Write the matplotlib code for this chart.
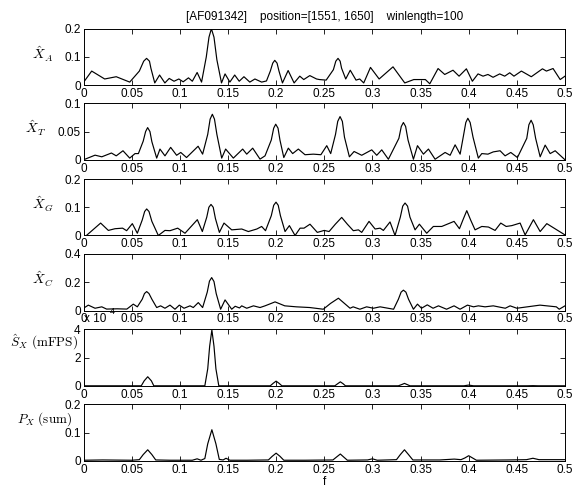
import matplotlib
matplotlib.use('Agg')
import matplotlib.pyplot as plt
import numpy as np

plt.rcParams['font.family'] = ['Liberation Sans', 'DejaVu Sans']
plt.rcParams['mathtext.fontset'] = 'cm'

title = '[AF091342]    position=[1551, 1650]    winlength=100'

# X_A spectrum (peaks / troughs)
fa = [0.0, 0.0085, 0.022, 0.034, 0.048, 0.058, 0.0625, 0.0655, 0.0685, 0.070, 0.074, 0.079, 0.0845, 0.089,
      0.094, 0.099, 0.1035, 0.109, 0.113, 0.118, 0.1226, 0.1275, 0.1303, 0.1328, 0.1355, 0.1385, 0.1433,
      0.147, 0.152, 0.157, 0.1617, 0.1666, 0.1727, 0.178, 0.185, 0.19, 0.194, 0.1965, 0.1986, 0.201, 0.203,
      0.2066, 0.2125, 0.2187, 0.2246, 0.2287, 0.235, 0.242, 0.245, 0.252, 0.2595, 0.262, 0.2643, 0.2665,
      0.268, 0.2723, 0.277, 0.283, 0.2868, 0.291, 0.298, 0.307, 0.3214, 0.3336, 0.343, 0.355, 0.3596,
      0.3682, 0.3751, 0.3837, 0.39, 0.3976, 0.4038, 0.4097, 0.4149, 0.42, 0.4253, 0.4322, 0.4374, 0.4426,
      0.447, 0.4547, 0.465, 0.4766, 0.4807, 0.4876, 0.495, 0.5]
xa = [0.01, 0.05, 0.022, 0.03, 0.011, 0.05, 0.085, 0.095, 0.085, 0.06, 0.008, 0.036, 0.008, 0.024,
      0.014, 0.022, 0.012, 0.026, 0.014, 0.045, 0.011, 0.1, 0.17, 0.2, 0.17, 0.09, 0.008,
      0.04, 0.011, 0.036, 0.014, 0.03, 0.011, 0.022, 0.011, 0.015, 0.05, 0.078, 0.088, 0.078, 0.05,
      0.008, 0.052, 0.008, 0.032, 0.02, 0.034, 0.022, 0.02, 0.018, 0.055, 0.085, 0.095, 0.085,
      0.06, 0.022, 0.053, 0.018, 0.022, 0.008, 0.063, 0.022, 0.065, 0.008, 0.02, 0.02, 0.005,
      0.059, 0.038, 0.053, 0.032, 0.058, 0.014, 0.04, 0.032, 0.038, 0.028, 0.04, 0.032, 0.044,
      0.032, 0.05, 0.03, 0.058, 0.05, 0.059, 0.02, 0.032]

# X_T spectrum
ft = [0.0, 0.012, 0.019, 0.029, 0.034, 0.041, 0.048, 0.0535, 0.057, 0.062, 0.0645, 0.0666, 0.069, 0.071,
      0.076, 0.0794, 0.0846, 0.0905, 0.0967, 0.101, 0.107, 0.119, 0.1237, 0.129, 0.1315, 0.1338, 0.136,
      0.1385, 0.1435, 0.1476, 0.1556, 0.1653, 0.1695, 0.1757, 0.1833, 0.1885, 0.195, 0.1975, 0.1996,
      0.202, 0.204, 0.208, 0.2127, 0.2172, 0.2231, 0.23, 0.2387, 0.2465, 0.2526, 0.2567, 0.2617, 0.264,
      0.2664, 0.2688, 0.271, 0.2761, 0.281, 0.2889, 0.2993, 0.3045, 0.3097, 0.3166, 0.3275, 0.33, 0.3322,
      0.3345, 0.337, 0.3426, 0.3468, 0.353, 0.3582, 0.3651, 0.3755, 0.3807, 0.3859, 0.3911, 0.3945, 0.397,
      0.3991, 0.4015, 0.4045, 0.41, 0.4136, 0.42, 0.4255, 0.4326, 0.4378, 0.4437, 0.4506, 0.4603, 0.4625,
      0.4648, 0.467, 0.4695, 0.4742, 0.4794, 0.4846, 0.4898, 0.5]
xt = [0.0, 0.0082, 0.0053, 0.012, 0.007, 0.016, 0.003, 0.011, 0.011, 0.033, 0.05, 0.057, 0.05, 0.032,
      0.003, 0.019, 0.007, 0.022, 0.008, 0.013, 0.004, 0.024, 0.01, 0.045, 0.072, 0.0806, 0.072,
      0.045, 0.003, 0.019, 0.003, 0.019, 0.01, 0.0206, 0.0012, 0.007, 0.035, 0.056, 0.063,
      0.056, 0.035, 0.004, 0.0206, 0.011, 0.019, 0.009, 0.01, 0.009, 0.025, 0.011, 0.045, 0.068,
      0.0765, 0.068, 0.04, 0.0053, 0.0147, 0.008, 0.0176, 0.008, 0.0176, 0.001, 0.038, 0.059, 0.066,
      0.059, 0.035, 0.001, 0.025, 0.01, 0.019, 0.001, 0.013, 0.008, 0.0265, 0.01, 0.042, 0.066,
      0.0735, 0.066, 0.04, 0.003, 0.011, 0.01, 0.014, 0.016, 0.007, 0.013, 0.004, 0.038, 0.062,
      0.07, 0.062, 0.038, 0.0053, 0.026, 0.011, 0.016, 0.0]

# X_G spectrum
fg = [0.003, 0.0178, 0.0258, 0.0327, 0.0406, 0.0448, 0.0507, 0.0559, 0.061, 0.0635, 0.0656, 0.068, 0.071,
      0.0777, 0.0846, 0.0898, 0.0978, 0.1054, 0.1182, 0.1234, 0.128, 0.1302, 0.1324, 0.1347, 0.137, 0.1411,
      0.1459, 0.1539, 0.1643, 0.1712, 0.18, 0.185, 0.189, 0.195, 0.1975, 0.1999, 0.2022, 0.2045, 0.2093,
      0.2138, 0.2197, 0.2249, 0.229, 0.2352, 0.2428, 0.25, 0.255, 0.2615, 0.2681, 0.274, 0.2802, 0.2855,
      0.2889, 0.2965, 0.3028, 0.308, 0.3114, 0.3183, 0.3235, 0.329, 0.3315, 0.3339, 0.3365, 0.339, 0.3443,
      0.3488, 0.3564, 0.3633, 0.372, 0.3848, 0.3904, 0.394, 0.398, 0.402, 0.4066, 0.4136, 0.4205, 0.4274,
      0.4333, 0.4389, 0.4448, 0.4534, 0.4586, 0.4672, 0.4742, 0.4811, 0.5]
xg = [0.0, 0.044, 0.018, 0.024, 0.026, 0.017, 0.042, 0.008, 0.055, 0.085, 0.094, 0.085, 0.05,
      0.0, 0.018, 0.017, 0.026, 0.008, 0.056, 0.014, 0.065, 0.1, 0.11, 0.1, 0.06, 0.011,
      0.044, 0.02, 0.023, 0.014, 0.023, 0.032, 0.017, 0.07, 0.107, 0.118, 0.107, 0.07, 0.014,
      0.035, 0.0, 0.026, 0.026, 0.04, 0.011, 0.018, 0.014, 0.04, 0.064, 0.04, 0.017, 0.02,
      0.011, 0.05, 0.023, 0.026, 0.018, 0.048, 0.0, 0.065, 0.104, 0.115, 0.104, 0.065, 0.02,
      0.04, 0.008, 0.032, 0.032, 0.05, 0.024, 0.055, 0.088, 0.055, 0.02, 0.032, 0.03, 0.018,
      0.044, 0.032, 0.035, 0.044, 0.002, 0.056, 0.014, 0.042, 0.002]

# X_C spectrum
fc = [0.0, 0.005, 0.012, 0.019, 0.024, 0.035, 0.045, 0.0517, 0.0559, 0.061, 0.0633, 0.0656, 0.068, 0.071,
      0.076, 0.0801, 0.0846, 0.0898, 0.095, 0.0995, 0.1044, 0.1106, 0.114, 0.1192, 0.1237, 0.1285, 0.1308,
      0.1331, 0.1355, 0.1378, 0.1424, 0.147, 0.1539, 0.1575, 0.162, 0.1643, 0.1695, 0.1765, 0.1833, 0.1885,
      0.193, 0.1989, 0.209, 0.221, 0.235, 0.249, 0.2565, 0.2647, 0.271, 0.2768, 0.28, 0.287, 0.294, 0.301,
      0.308, 0.322, 0.327, 0.3298, 0.3322, 0.3348, 0.3375, 0.3426, 0.3468, 0.351, 0.357, 0.363, 0.3686,
      0.377, 0.3848, 0.391, 0.3987, 0.405, 0.41, 0.417, 0.4255, 0.438, 0.443, 0.45, 0.474, 0.491, 0.494, 0.5]
xc = [0.016, 0.038, 0.016, 0.026, 0.01, 0.012, 0.01, 0.045, 0.026, 0.08, 0.12, 0.134, 0.12, 0.08,
      0.021, 0.033, 0.016, 0.038, 0.009, 0.038, 0.016, 0.033, 0.021, 0.056, 0.021, 0.13, 0.208,
      0.233, 0.205, 0.12, 0.009, 0.075, 0.009, 0.03, 0.018, 0.033, 0.016, 0.033, 0.021, 0.033,
      0.045, 0.061, 0.033, 0.026, 0.021, 0.009, 0.05, 0.087, 0.05, 0.016, 0.026, 0.009, 0.026, 0.016,
      0.026, 0.009, 0.08, 0.13, 0.144, 0.13, 0.08, 0.009, 0.045, 0.016, 0.04, 0.016, 0.033,
      0.009, 0.033, 0.009, 0.038, 0.026, 0.033, 0.026, 0.033, 0.016, 0.033, 0.016, 0.038, 0.026, 0.009, 0.033]

# S_X (mFPS)
fs = [0.0, 0.06, 0.063, 0.0667, 0.0705, 0.073, 0.126, 0.129, 0.131, 0.1333, 0.1355, 0.1375, 0.1405,
      0.194, 0.197, 0.2, 0.203, 0.206, 0.261, 0.264, 0.2667, 0.2695, 0.272, 0.327, 0.3305, 0.3333, 0.336,
      0.339, 0.395, 0.4, 0.405, 0.461, 0.4667, 0.472, 0.5]
sx = [0.0, 0.0, 0.35e-4, 0.64e-4, 0.35e-4, 0.0, 0.0, 1.2e-4, 2.8e-4, 3.95e-4, 2.8e-4, 1.2e-4, 0.0,
      0.0, 0.18e-4, 0.33e-4, 0.18e-4, 0.0, 0.0, 0.15e-4, 0.28e-4, 0.15e-4, 0.0, 0.0, 0.09e-4, 0.17e-4, 0.09e-4,
      0.0, 0.0, 0.05e-4, 0.0, 0.0, 0.01e-4, 0.0, 0.0]

# P_X (sum)
fp = [0.0, 0.02, 0.05, 0.058, 0.062, 0.0667, 0.071, 0.075, 0.09, 0.113, 0.118, 0.122, 0.126, 0.129,
      0.1333, 0.1375, 0.141, 0.145, 0.148, 0.152, 0.17, 0.192, 0.196, 0.2, 0.204, 0.208, 0.23, 0.259,
      0.263, 0.2667, 0.27, 0.274, 0.295, 0.3, 0.305, 0.325, 0.329, 0.3333, 0.3375, 0.342, 0.37, 0.385,
      0.392, 0.396, 0.4, 0.404, 0.408, 0.44, 0.46, 0.4667, 0.473, 0.5]
px = [0.002, 0.003, 0.002, 0.004, 0.022, 0.039, 0.022, 0.003, 0.002, 0.002, 0.007, 0.002, 0.008, 0.06,
      0.11, 0.06, 0.005, 0.003, 0.009, 0.002, 0.002, 0.003, 0.016, 0.027, 0.016, 0.002, 0.002, 0.003,
      0.014, 0.024, 0.014, 0.002, 0.003, 0.007, 0.002, 0.004, 0.022, 0.039, 0.022, 0.003, 0.003, 0.006,
      0.004, 0.01, 0.018, 0.01, 0.002, 0.003, 0.004, 0.009, 0.004, 0.004]

labels = [r'$\hat{X}_A$', r'$\hat{X}_T$', r'$\hat{X}_G$', r'$\hat{X}_C$',
          r'$\hat{S}_X\ \mathrm{(mFPS)}$', r'$P_X\ \mathrm{(sum)}$']
yticks = [[0, 0.1, 0.2], [0, 0.05, 0.1], [0, 0.1, 0.2], [0, 0.2, 0.4], [0, 2e-4, 4e-4], [0, 0.1, 0.2]]
yticklabels = [['0', '0.1', '0.2'], ['0', '0.05', '0.1'], ['0', '0.1', '0.2'], ['0', '0.2', '0.4'],
               ['0', '2', '4'], ['0', '0.1', '0.2']]
xticks = [0, 0.05, 0.1, 0.15, 0.2, 0.25, 0.3, 0.35, 0.4, 0.45, 0.5]
xticklabels = ['0', '0.05', '0.1', '0.15', '0.2', '0.25', '0.3', '0.35', '0.4', '0.45', '0.5']

series = [(fa, xa), (ft, xt), (fg, xg), (fc, xc), (fs, sx), (fp, px)]

W, H = 579, 494
fig = plt.figure(figsize=(W / 100, H / 100), dpi=100)
left, right = 83.5, 565
tops = [28.7, 103.3, 179, 254, 329.3, 404.3]
h = 56.5

axes = []
for k, (f, v) in enumerate(series):
    ax = fig.add_axes([left / W, 1 - (tops[k] + h) / H, (right - left) / W, h / H])
    ax.plot(f, v, color='k', lw=0.85)
    ax.set_xlim(0, 0.5)
    ax.set_ylim(yticks[k][0], yticks[k][-1])
    ax.set_xticks(xticks)
    ax.set_xticklabels(xticklabels)
    ax.set_yticks(yticks[k])
    ax.set_yticklabels(yticklabels[k])
    ax.tick_params(direction='in', top=True, right=True, length=3.5, width=0.6,
                   labelsize=8.5, pad=2)
    for s in ax.spines.values():
        s.set_linewidth(0.7)
    axes.append(ax)

# y labels
for k in range(4):
    xpos = 35 if k == 1 else 43
    fig.text(xpos / W, 1 - (tops[k] + h / 2 - 3) / H, labels[k], fontsize=10,
             ha='center', va='center')
fig.text(44 / W, 1 - (tops[4] + 13) / H, labels[4], fontsize=9.5, ha='center', va='center')
fig.text(45 / W, 1 - (tops[5] + 15) / H, labels[5], fontsize=9.5, ha='center', va='center')

# exponent for the mFPS panel
fig.text(84 / W, 1 - 319 / H, 'x 10', fontsize=8.5, ha='left', va='center')
fig.text(108 / W, 1 - 312 / H, '-4', fontsize=6.5, ha='left', va='center')

axes[0].set_title(title, fontsize=8.5, pad=6)
axes[-1].set_xlabel('f', fontsize=8.5, labelpad=0)

fig.savefig('out.png', dpi=100)
